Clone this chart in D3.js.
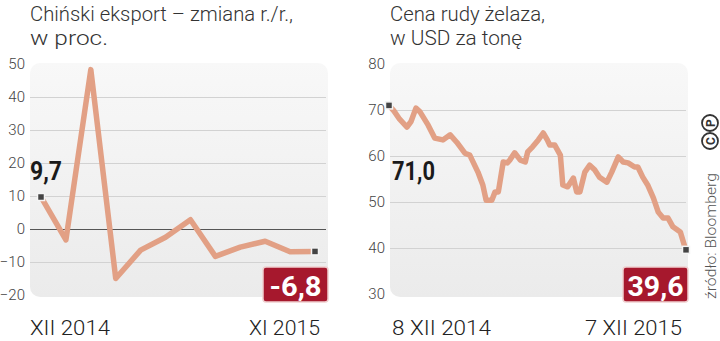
<!DOCTYPE html>
<html><head><meta charset="utf-8">
<script src="https://cdn.jsdelivr.net/npm/d3@7/dist/d3.min.js"></script>
<style>
html,body{margin:0;padding:0;background:#fff;}
svg{display:block;font-family:Roboto,"Open Sans",sans-serif;}
</style></head>
<body>
<svg id="c" width="720" height="341"></svg>
<script>
// ---- data ----
const exportMonths = ["XII 2014","I","II","III","IV","V","VI","VII","VIII","IX","X","XI 2015"];
const exportValues = [9.7,-3.3,48.3,-15.0,-6.4,-2.5,2.8,-8.3,-5.5,-3.7,-6.9,-6.8];
const exportTicks = [50,40,30,20,10,0,-10,-20];

const oreDates = ["2014-12-08","2014-12-14","2014-12-21","2014-12-30","2015-01-04","2015-01-10","2015-01-15","2015-01-25",
"2015-02-02","2015-02-12","2015-02-21","2015-03-01","2015-03-11","2015-03-17","2015-03-27","2015-04-02","2015-04-06",
"2015-04-13","2015-04-17","2015-04-21","2015-04-27","2015-05-02","2015-05-05","2015-05-11","2015-05-18","2015-05-24",
"2015-05-27","2015-06-02","2015-06-09","2015-06-15","2015-06-20","2015-06-23","2015-06-29","2015-07-06","2015-07-09",
"2015-07-15","2015-07-22","2015-07-26","2015-07-30","2015-08-05","2015-08-11","2015-08-17","2015-08-23","2015-09-01",
"2015-09-07","2015-09-15","2015-09-21","2015-09-27","2015-10-05","2015-10-09","2015-10-15","2015-10-21","2015-10-28",
"2015-11-03","2015-11-09","2015-11-15","2015-11-21","2015-11-30","2015-12-06","2015-12-07"];
const oreValues = [71.0,69.8,68.0,66.3,67.5,70.4,69.6,66.7,
63.9,63.5,64.6,63.0,60.6,60.2,56.5,53.7,50.4,
50.4,52.2,52.2,58.7,58.5,59.1,60.7,59.1,58.7,
60.9,62.0,63.5,65.0,63.5,62.4,62.4,60.2,53.7,
53.3,55.2,52.2,52.2,56.5,58.0,57.0,55.4,54.3,
56.5,59.8,58.7,58.5,57.6,57.6,55.4,53.7,50.9,
47.8,46.5,46.5,44.6,43.5,40.0,39.6];
const oreTicks = [80,70,60,50,40,30];

const svg = d3.select("#c");
const defs = svg.append("defs");
const grad = defs.append("linearGradient").attr("id","bg").attr("x1",0).attr("y1",0).attr("x2",0).attr("y2",1);
grad.append("stop").attr("offset","0%").attr("stop-color","#f8f8f8");
grad.append("stop").attr("offset","100%").attr("stop-color","#ebebeb");

const LINE = "#e2a085";

function txt(g, s, x, y, opts){
  const t = g.append("text").attr("x",x).attr("y",y).text(s)
    .attr("font-size",opts.size).attr("font-weight",opts.weight||300)
    .attr("fill",opts.fill||"#333").attr("text-anchor",opts.anchor||"start");
  if(opts.len) t.attr("textLength",opts.len).attr("lengthAdjust","spacingAndGlyphs");
  return t;
}

function panel(cfg){
  const g = svg.append("g");
  const {x0,x1,y0,y1} = cfg;
  g.append("rect").attr("x",x0).attr("y",y0).attr("width",x1-x0).attr("height",y1-y0)
    .attr("rx",10).attr("fill","url(#bg)");
  const inner = cfg.ticks.filter(t=>t!==cfg.ticks[0] && t!==cfg.ticks[cfg.ticks.length-1]);
  g.selectAll("line.grid").data(inner).join("line")
    .attr("x1",x0).attr("x2",x1-2)
    .attr("y1",d=>Math.round(cfg.y(d))+0.5).attr("y2",d=>Math.round(cfg.y(d))+0.5)
    .attr("stroke",d=>d===0?"#555":"#d2d2d2").attr("stroke-width",1);
  const ax = d3.axisLeft(cfg.y).tickValues(cfg.ticks).tickSize(0).tickPadding(5).tickFormat(d3.format("d"));
  const axg = g.append("g").attr("transform",`translate(${x0},0)`).call(ax);
  axg.select(".domain").remove();
  axg.selectAll("text").attr("font-size",15).attr("font-weight",300).attr("fill","#444")
    .attr("font-family","Roboto, sans-serif");
  return g;
}

function marker(g,x,y){
  g.append("rect").attr("x",x-3.5).attr("y",y-3.5).attr("width",7).attr("height",7)
    .attr("fill","#444").attr("stroke","#f4f4f4").attr("stroke-width",1.5);
}

function redBox(g, s, xr, yt, len){
  g.append("rect").attr("x",xr-65).attr("y",yt).attr("width",65).attr("height",35).attr("rx",3)
    .attr("fill","#a6182d").attr("stroke","#efcfcf").attr("stroke-width",1.5);
  txt(g,s,xr-32.5,yt+29,{size:28,weight:700,fill:"#fff",anchor:"middle",len:len});
}

// ---- left chart ----
{
  const y = d3.scaleLinear().domain([-20,50]).range([295,64]);
  const x = d3.scaleLinear().domain([0,exportValues.length-1]).range([41,315]);
  const g = panel({x0:30,x1:328,y0:63,y1:297,y:y,ticks:exportTicks});
  const line = d3.line().x((d,i)=>x(i)).y(d=>y(d)).curve(d3.curveLinear);
  g.append("path").datum(exportValues).attr("d",line).attr("fill","none")
    .attr("stroke",LINE).attr("stroke-width",5.5).attr("stroke-linejoin","round").attr("stroke-linecap","round");
  marker(g,x(0),y(exportValues[0]));
  const n = exportValues.length-1;
  marker(g,x(n),y(exportValues[n]));
  txt(g,"Chiński eksport – zmiana r./r.,",30,21,{size:21,fill:"#333",len:263});
  txt(g,"w proc.",30,45,{size:21,fill:"#333",len:78});
  txt(g,"9,7",30,180,{size:25,weight:700,fill:"#1a1a1a",len:32});
  redBox(g,"-6,8",328,267,52);
  txt(g,exportMonths[0],30,335,{size:21,fill:"#222",len:80});
  txt(g,exportMonths[n],320,335,{size:21,fill:"#222",anchor:"end",len:71});
}

// ---- right chart ----
{
  const parse = d3.timeParse("%Y-%m-%d");
  const dates = oreDates.map(parse);
  const y = d3.scaleLinear().domain([30,80]).range([294,64]);
  const x = d3.scaleTime().domain([dates[0],dates[dates.length-1]]).range([389,686]);
  const g = panel({x0:390,x1:688,y0:63,y1:297,y:y,ticks:oreTicks});
  const line = d3.line().x((d,i)=>x(dates[i])).y(d=>y(d)).curve(d3.curveLinear);
  g.append("path").datum(oreValues).attr("d",line).attr("fill","none")
    .attr("stroke",LINE).attr("stroke-width",5.5).attr("stroke-linejoin","round").attr("stroke-linecap","round");
  const n = oreValues.length-1;
  marker(g,x(dates[0]),y(oreValues[0]));
  marker(g,x(dates[n]),y(oreValues[n]));
  txt(g,"Cena rudy żelaza,",390,21,{size:21,fill:"#333",len:155});
  txt(g,"w USD za tonę",390,45,{size:21,fill:"#333",len:132});
  txt(g,"71,0",392,180,{size:25,weight:700,fill:"#1a1a1a",len:43});
  redBox(g,"39,6",688,267,56);
  txt(g,"8 XII 2014",392,335,{size:21,fill:"#222",len:99});
  txt(g,"7 XII 2015",682,335,{size:21,fill:"#222",anchor:"end",len:97});

  const s = svg.append("g").attr("transform","translate(716,299) rotate(-90)");
  s.append("text").attr("x",0).attr("y",0).text("źródło: Bloomberg")
    .attr("font-size",14).attr("font-weight",300).attr("fill","#555")
    .attr("textLength",126).attr("lengthAdjust","spacingAndGlyphs");
  const lg = svg.append("g").attr("transform","translate(710,132) rotate(-90)");
  [["C",-9],["P",9]].forEach(([ch,dx])=>{
    lg.append("circle").attr("cx",dx).attr("cy",0).attr("r",8).attr("fill","none").attr("stroke","#333").attr("stroke-width",1.8);
    lg.append("text").attr("x",dx).attr("y",4.5).attr("text-anchor","middle").attr("font-size",12)
      .attr("font-weight",700).attr("fill","#333").text(ch);
  });
}
</script>
</body></html>
